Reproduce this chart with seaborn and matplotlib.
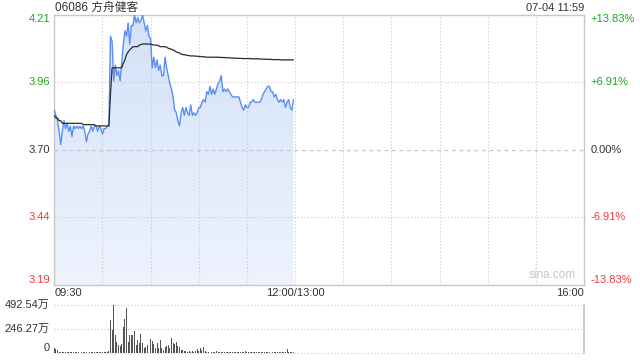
import numpy as np
import pandas as pd
import matplotlib
matplotlib.use("Agg")
import matplotlib.pyplot as plt
import seaborn as sns
from matplotlib.colors import LinearSegmentedColormap

# ---------------- data ----------------
title = "06086 方舟健客"
stamp = "07-04 11:59"
prev_close = 3.70
price_labels = ["4.21", "3.96", "3.70", "3.44", "3.19"]
pct_labels = ["+13.83%", "+6.91%", "0.00%", "-6.91%", "-13.83%"]
vol_labels = ["492.54万", "246.27万", "0"]
vol_ticks = [492.54, 246.27, 0]
time_labels = ["09:30", "12:00/13:00", "16:00"]

price = [3.85, 3.83, 3.81, 3.77, 3.72, 3.77, 3.81, 3.78, 3.80, 3.77,
         3.79, 3.75, 3.79, 3.78, 3.79, 3.78, 3.79, 3.78, 3.79, 3.77,
         3.73, 3.76, 3.77, 3.79, 3.77, 3.79, 3.79, 3.77, 3.79, 3.78,
         3.76, 3.78, 3.78, 3.79, 3.79, 4.13, 4.11, 3.96, 4.02, 3.98,
         4.00, 3.96, 4.03, 4.10, 4.15, 4.13, 4.18, 4.10, 4.17, 4.17,
         4.21, 4.18, 4.20, 4.18, 4.19, 4.21, 4.18, 4.15, 4.17, 4.13,
         4.12, 4.01, 4.05, 4.01, 4.04, 4.00, 4.02, 3.98, 3.98, 4.05,
         4.01, 3.98, 3.95, 3.93, 3.90, 3.85, 3.84, 3.81, 3.79, 3.84,
         3.86, 3.83, 3.86, 3.84, 3.83, 3.87, 3.83, 3.84, 3.83, 3.84,
         3.86, 3.86, 3.88, 3.89, 3.88, 3.92, 3.91, 3.94, 3.91, 3.93,
         3.91, 3.93, 3.95, 3.96, 3.98, 3.92, 3.93, 3.92, 3.93, 3.92,
         3.91, 3.90, 3.90, 3.90, 3.90, 3.90, 3.88, 3.86, 3.85, 3.87,
         3.86, 3.86, 3.88, 3.88, 3.89, 3.88, 3.88, 3.88, 3.88, 3.89,
         3.91, 3.92, 3.93, 3.94, 3.94, 3.92, 3.92, 3.90, 3.91, 3.89,
         3.88, 3.89, 3.88, 3.89, 3.86, 3.88, 3.89, 3.86, 3.85, 3.89]

avg_price = [3.83, 3.82, 3.82, 3.81, 3.81, 3.80, 3.80, 3.80, 3.80, 3.80,
             3.80, 3.80, 3.80, 3.80, 3.80, 3.80, 3.80, 3.80, 3.795, 3.795,
             3.795, 3.795, 3.795, 3.795, 3.795, 3.795, 3.79, 3.79, 3.79, 3.79,
             3.79, 3.79, 3.79, 3.79, 3.79, 3.91, 4.01, 4.01, 4.01, 4.01,
             4.01, 4.01, 4.01, 4.027, 4.04, 4.06, 4.07, 4.078, 4.084, 4.09,
             4.09, 4.09, 4.09, 4.096, 4.098, 4.10, 4.10, 4.10, 4.10, 4.10,
             4.10, 4.098, 4.096, 4.096, 4.096, 4.093, 4.09, 4.09, 4.09, 4.09,
             4.088, 4.084, 4.082, 4.08, 4.078, 4.074, 4.07, 4.068, 4.066, 4.062,
             4.06, 4.06, 4.058, 4.057, 4.056, 4.055, 4.055, 4.055, 4.054, 4.054,
             4.053, 4.053, 4.052, 4.052, 4.051, 4.05, 4.05, 4.05, 4.05, 4.05,
             4.05, 4.05, 4.05, 4.05, 4.049, 4.049, 4.049, 4.048, 4.048, 4.048,
             4.047, 4.047, 4.047, 4.046, 4.046, 4.046, 4.046, 4.045, 4.045, 4.045,
             4.045, 4.045, 4.045, 4.044, 4.044, 4.044, 4.044, 4.044, 4.043, 4.043,
             4.043, 4.043, 4.042, 4.042, 4.042, 4.042, 4.041, 4.041, 4.041, 4.041,
             4.041, 4.040, 4.040, 4.040, 4.040, 4.040, 4.040, 4.040, 4.040, 4.040]

volume = [49, 39, 26, 12, 8, 15, 10, 9, 14, 7,
          11, 9, 13, 8, 10, 12, 7, 9, 11, 8,
          10, 13, 9, 7, 11, 8, 10, 9, 12, 8,
          10, 9, 11, 13, 20, 338, 236, 492.54, 180, 115,
          85, 70, 95, 262, 345, 453, 115, 180, 180, 187,
          220, 82, 130, 100, 190, 100, 49, 56, 82, 66,
          138, 121, 89, 49, 98, 49, 131, 49, 33, 66,
          75, 82, 49, 148, 98, 89, 108, 75, 66, 33,
          33, 23, 16, 14, 18, 15, 16, 14, 17, 39,
          23, 49, 33, 66, 16, 14, 12, 33, 15, 13,
          12, 16, 14, 11, 13, 15, 12, 10, 14, 12,
          11, 13, 10, 12, 14, 11, 13, 12, 10, 20,
          12, 11, 13, 10, 12, 14, 11, 10, 12, 13,
          11, 10, 12, 14, 11, 12, 10, 13, 11, 12,
          10, 12, 11, 13, 10, 39, 12, 11, 10, 12]

# ---------------- style ----------------
sns.set_theme(style="white")
plt.rcParams["font.family"] = ["Liberation Sans", "Noto Sans CJK SC", "DejaVu Sans"]

W, H = 640, 360
fig = plt.figure(figsize=(6.4, 3.6), dpi=100)

def fx(px):
    return px / W

def fy(py):
    return 1 - py / H

top_px, bot_px, left_px, right_px = 14.5, 285, 54.3, 584
ax = fig.add_axes([fx(left_px), fy(bot_px), fx(right_px - left_px), (bot_px - top_px) / H])
vtop, vbot = 304.5, 353
axv = fig.add_axes([fx(left_px), fy(vbot), fx(right_px - left_px), (vbot - vtop) / H])

green = "#1ea51e"
red = "#f23a3a"
dark = "#333333"
grid_c = "#c8c8c8"

ymax = prev_close * 1.1383
ymin = prev_close * (1 - 0.1383)

minutes = np.arange(len(price))
df = pd.DataFrame({"t": minutes, "price": price, "avg": avg_price})
dv = pd.DataFrame({"t": np.arange(len(volume)), "vol": volume})

# gradient fill under the price line
poly = ax.fill_between(df["t"], df["price"], ymin, color="none", lw=0)
cmap = LinearSegmentedColormap.from_list("g", ["#eef3fd", "#d3e2f8"])
grad = np.linspace(0, 1, 256).reshape(-1, 1)
img = ax.imshow(grad, extent=[0, len(price) - 1, ymin, ymax], aspect="auto",
                cmap=cmap, origin="lower", zorder=1)
img.set_clip_path(poly.get_paths()[0], transform=ax.transData)

sns.lineplot(data=df, x="t", y="price", ax=ax, color="#5b8ff2", lw=1.0, zorder=3)
sns.lineplot(data=df, x="t", y="avg", ax=ax, color="#2a2a2a", lw=0.9, zorder=4)

ax.set_xlim(0, 330)
ax.set_ylim(ymin, ymax)
ax.set_xlabel("")
ax.set_ylabel("")
ax.set_xticks([])
ax.set_yticks([])
for s in ax.spines.values():
    s.set_color(grid_c)
    s.set_linewidth(1.0)

# grid lines
for m in range(30, 330, 30):
    ax.axvline(m, color=grid_c, lw=0.8, ls=(0, (1, 2)), zorder=2)
for lvl in [prev_close * 1.0691, prev_close * (1 - 0.0691)]:
    ax.axhline(lvl, color=grid_c, lw=0.8, ls=(0, (1, 2)), zorder=2)
ax.axhline(prev_close, color=grid_c, lw=0.9, ls=(0, (3, 3)), zorder=2)

# price/percent labels
levels = [ymax, prev_close * 1.0691, prev_close, prev_close * (1 - 0.0691), ymin]
cols = [green, green, dark, red, red]
vas = ["top", "center", "center", "center", "bottom"]
tr = ax.get_yaxis_transform()
for lv, pl, cl, c, va in zip(levels, price_labels, pct_labels, cols, vas):
    off = 0
    ax.text(-0.008, lv, pl, transform=tr, ha="right", va=va, color=c, fontsize=8)
    ax.text(1.012, lv, cl, transform=tr, ha="left", va=va, color=c, fontsize=8)

ax.text(0.985, 0.015, "sina.com", transform=ax.transAxes, ha="right", va="bottom",
        color="#c4c4c4", fontsize=8.5)

# volume
axv.bar(dv["t"], dv["vol"], width=0.6, color="#555555", lw=0)
axv.set_xlim(0, 330)
axv.set_ylim(0, 492.54)
axv.set_xticks([])
axv.set_yticks([])
for k, s in axv.spines.items():
    s.set_visible(k == "right")
    s.set_color(grid_c)
for v in vol_ticks:
    axv.axhline(v, color=grid_c, lw=0.8, ls=(0, (1, 2)), zorder=0, clip_on=False)
trv = axv.get_yaxis_transform()
for v, lab in zip(vol_ticks, vol_labels):
    axv.text(-0.008, v, lab, transform=trv, ha="right",
             va="bottom" if v == 0 else "center", color=dark, fontsize=8)

# header and time labels
fig.text(fx(55), fy(8), title, ha="left", va="center", fontsize=8.5, color=dark)
fig.text(fx(584), fy(8), stamp, ha="right", va="center", fontsize=8, color=dark)
fig.text(fx(55), fy(293), time_labels[0], ha="left", va="center", fontsize=8, color=dark)
fig.text(fx(295), fy(293), time_labels[1], ha="center", va="center", fontsize=8, color=dark)
fig.text(fx(584), fy(293), time_labels[2], ha="right", va="center", fontsize=8, color=dark)

fig.savefig("out.png", dpi=100, facecolor="white")
